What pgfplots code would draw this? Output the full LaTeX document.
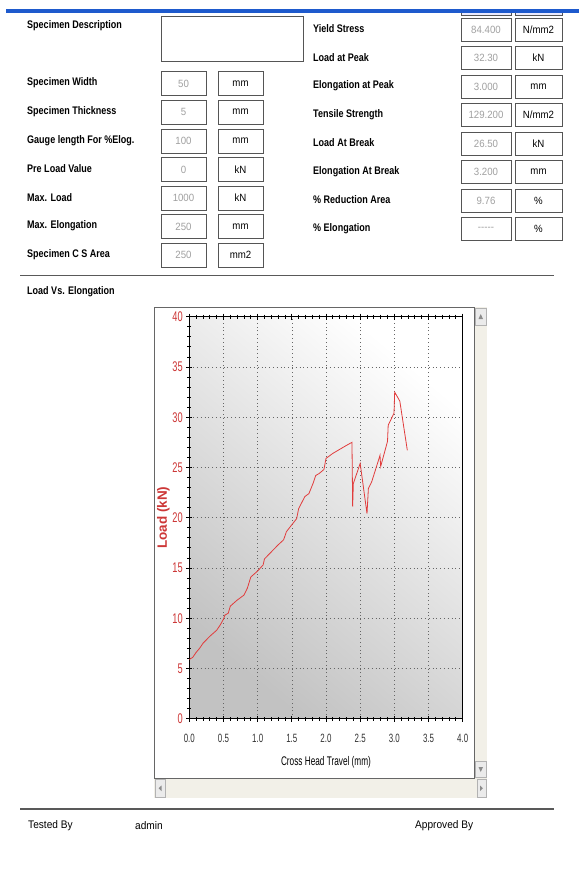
\documentclass[border=0pt]{standalone}
\usepackage{pgfplots}
\pgfplotsset{compat=1.18}
\usepackage{fontspec}
\setmainfont{Liberation Sans}
\newfontfamily\ui[FakeStretch=0.82]{Liberation Sans}
\newfontfamily\uv[FakeStretch=0.92]{Liberation Sans}
\newfontfamily\cf[FakeStretch=0.66]{Liberation Sans}
\definecolor{barblue}{RGB}{30,90,205}
\definecolor{lred}{RGB}{205,55,55}
\definecolor{linered}{RGB}{225,60,60}
\definecolor{valgray}{RGB}{160,160,160}
\definecolor{bxborder}{RGB}{85,85,85}
\definecolor{scroll}{RGB}{242,240,232}
\newcommand\lrow[4]{%
 \node[lab] at (27,#1+1) {#2};
 \draw[bx] (161,#1-10.5) rectangle (206,#1+13.5);
 \node[val] at (183.5,#1+1.5) {#3};
 \draw[bx] (218,#1-10.5) rectangle (263,#1+13.5);
 \node[unit] at (240.5,#1+1.5) {#4};}
\newcommand\rrow[4]{%
 \node[lab] at (313,#1+1) {#2};
 \draw[bx] (461,#1-10) rectangle (511,#1+13);
 \node[val] at (486,#1+1.5) {#3};
 \draw[bx] (515,#1-10) rectangle (562,#1+13);
 \node[unit] at (538.5,#1+1.5) {#4};}
\begin{document}
\begin{tikzpicture}[x=1pt,y=-1pt,
 lab/.style={anchor=west,inner sep=0pt,font=\ui\bfseries\fontsize{11}{13}\selectfont},
 txt/.style={anchor=west,inner sep=0pt,font=\uv\fontsize{11}{13}\selectfont},
 bx/.style={draw=bxborder,line width=0.9pt,fill=white},
 val/.style={inner sep=0pt,text=valgray,font=\uv\fontsize{10.5}{12}\selectfont},
 unit/.style={inner sep=0pt,font=\uv\fontsize{10.5}{12}\selectfont}]
\fill[white] (0,0) rectangle (579,891);
% cut-off boxes at top
\draw[bx,fill=blue!8] (461,4) rectangle (511,15);
\draw[bx,fill=blue!8] (515,4) rectangle (562,15);
\fill[white] (0,0) rectangle (579,9);
\fill[barblue] (6,9) rectangle (579,13.5);
% description
\node[lab] at (27,26) {Specimen Description};
\draw[bx] (161,16) rectangle (303,61);
\lrow{82}{Specimen Width}{50}{mm}
\lrow{110.5}{Specimen Thickness}{5}{mm}
\lrow{139.5}{Gauge length For \%Elog.}{100}{mm}
\lrow{168}{Pre Load Value}{0}{kN}
\lrow{196.5}{Max. Load}{1000}{kN}
\lrow{225}{Max. Elongation}{250}{mm}
\lrow{253.5}{Specimen C S Area}{250}{mm2}
\rrow{28}{Yield Stress}{84.400}{N/mm2}
\rrow{56.5}{Load at Peak}{32.30}{kN}
\rrow{85}{Elongation at Peak}{3.000}{mm}
\rrow{113.5}{Tensile Strength}{129.200}{N/mm2}
\rrow{142}{Load At Break}{26.50}{kN}
\rrow{170.5}{Elongation At Break}{3.200}{mm}
\rrow{199}{\% Reduction Area}{9.76}{\%}
\rrow{227.5}{\% Elongation}{-----}{\%}
\draw[black!65,line width=1.6pt] (20,275.5) -- (554,275.5);
\node[lab] at (27,292) {Load Vs. Elongation};
% chart panel and scrollbars
\fill[scroll] (474.5,307) rectangle (487,798);
\fill[scroll] (154,778) rectangle (487,798);
\draw[black!30,fill=black!8] (475.5,308) rectangle (486,325);
\draw[black!30,fill=black!8] (475.5,761) rectangle (486,777);
\draw[black!30,fill=black!8] (155,779.5) rectangle (165,797);
\draw[black!30,fill=black!8] (477,779.5) rectangle (486,797);
\fill[black!45] (478.5,319) -- (483,319) -- (480.75,314) -- cycle;
\fill[black!45] (478.5,767) -- (483,767) -- (480.75,772) -- cycle;
\fill[black!45] (161.5,785.5) -- (161.5,791) -- (158.5,788.25) -- cycle;
\fill[black!45] (480,785.5) -- (480,791) -- (483,788.25) -- cycle;
\draw[black!60,line width=0.9pt,fill=white] (154,307) rectangle (474.5,778);
\begin{axis}[at={(189.3pt,-718.7pt)}, anchor=south west, scale only axis,
 width=273.4pt, height=402pt,
 xmin=0, xmax=4, ymin=0, ymax=40,
 xtick={0,0.5,...,4}, ytick={0,5,...,40},
 minor x tick num=4, minor y tick num=4,
 ytick pos=left, tick align=center,
 major tick length=6pt, minor tick length=4pt,
 tick style={black, line width=0.8pt},
 grid=major, grid style={black!60, line width=0.6pt, dash pattern=on 0.8pt off 3pt},
 axis line style={black, line width=0.9pt},
 axis background/.style={shade, top color=white, bottom color=black!24, shading angle=-40},
 /pgf/number format/assume math mode=true,
 x tick label style={font=\cf\fontsize{12}{14}\selectfont, text=black!80, yshift=-9pt,
   /pgf/number format/.cd, fixed, fixed zerofill, precision=1},
 y tick label style={font=\cf\fontsize{14}{16}\selectfont, text=lred},
 xlabel={Cross Head Travel (mm)},
 xlabel style={font=\cf\fontsize{12.5}{14}\selectfont, yshift=-7pt},
 ylabel={Load (kN)},
 ylabel style={font=\bfseries\fontsize{13.5}{15}\selectfont, text=lred, yshift=-4pt},
]
\addplot[linered, line width=0.8pt] coordinates {
(0,5.9) (0.05,6.1) (0.1,6.6) (0.15,7.0) (0.2,7.5) (0.3,8.2) (0.4,8.8) (0.45,9.3)
(0.5,9.9) (0.52,10.3) (0.57,10.5) (0.6,11.2) (0.7,11.8) (0.8,12.3) (0.85,13.0)
(0.9,14.1) (1.0,14.7) (1.08,15.3) (1.1,15.9) (1.2,16.6) (1.3,17.3) (1.38,17.8)
(1.42,18.6) (1.5,19.3) (1.57,19.9) (1.6,20.9) (1.69,22.1) (1.75,22.4) (1.81,23.4)
(1.85,24.2) (1.9,24.4) (1.97,24.8) (2.0,25.9) (2.1,26.4) (2.2,26.8) (2.3,27.2)
(2.38,27.5) (2.39,21.1) (2.4,23.4) (2.5,25.4) (2.6,20.4) (2.62,22.9) (2.67,23.6)
(2.79,26.2) (2.80,25.1) (2.90,27.6) (2.91,29.2) (2.995,30.4) (3.005,32.5)
(3.08,31.6) (3.19,26.7)
};
\end{axis}
\draw[black!65,line width=1.6pt] (20,809) -- (554,809);
\node[txt] at (28,826) {Tested By};
\node[txt] at (135,826) {admin};
\node[txt] at (415,826) {Approved By};
\end{tikzpicture}
\end{document}
